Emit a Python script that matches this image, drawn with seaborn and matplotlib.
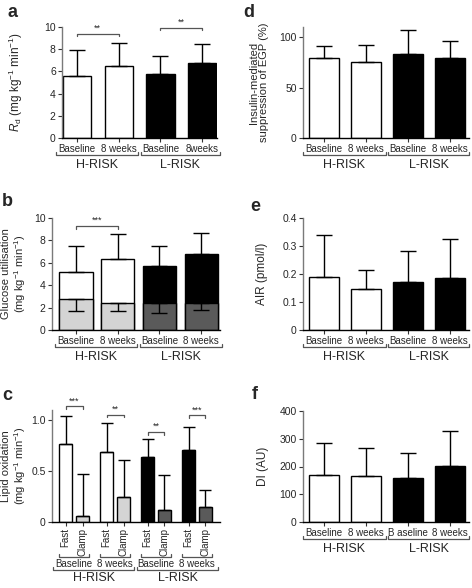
import matplotlib
matplotlib.use("Agg")
import matplotlib.pyplot as plt
import numpy as np
import pandas as pd
import seaborn as sns

W, H = 472, 588

# values
groups = ["H-RISK", "L-RISK"]
conditions = ["H Baseline", "H 8 weeks", "L Baseline", "L 8 weeks"]
labels_a = ["Baseline", "8 weeks", "Baseline", "8weeks"]
labels_std = ["Baseline", "8 weeks", "Baseline", "8 weeks"]
labels_f = ["Baseline", "8 weeks", "B aseline", "8 weeks"]
phases = ["Fast", "Clamp"]

rd_mean = [5.6, 6.5, 5.8, 6.8]
rd_sd = [2.3, 2.05, 1.55, 1.7]

glu_total = [5.22, 6.33, 5.73, 6.8]
glu_total_sd = [2.3, 2.24, 1.73, 1.86]
glu_lower = [2.78, 2.45, 2.45, 2.39]
glu_lower_sd = [1.08, 0.75, 0.95, 0.59]

lipid_fast = [0.762, 0.684, 0.642, 0.704]
lipid_fast_sd = [0.28, 0.293, 0.172, 0.231]
lipid_clamp = [0.055, 0.25, 0.12, 0.143]
lipid_clamp_sd = [0.415, 0.36, 0.343, 0.173]

egp_mean = [79.2, 75.6, 82.8, 79.2]
egp_sd = [11.9, 16.8, 24.1, 17.2]
air_mean = [0.191, 0.148, 0.171, 0.185]
air_sd = [0.147, 0.066, 0.112, 0.14]
di_mean = [170.7, 166.0, 157.6, 200.6]
di_sd = [114.3, 100.0, 89.4, 127.4]

LIGHT = "#d4d4d4"
DARK = "#5a5a5a"
main_colors = ["white", "white", "black", "black"]
lower_colors = [LIGHT, LIGHT, DARK, DARK]

sns.set_theme(style="ticks")
plt.rcParams["font.family"] = ["Liberation Sans", "DejaVu Sans"]
plt.rcParams["mathtext.fontset"] = "custom"
plt.rcParams["mathtext.rm"] = "Liberation Sans"
plt.rcParams["mathtext.it"] = "Liberation Sans:italic"

fig = plt.figure(figsize=(W / 100, H / 100), dpi=100)


def px_axes(left, top, right, bottom):
    return fig.add_axes([left / W, 1 - bottom / H, (right - left) / W, (bottom - top) / H])


def style(ax, ylim, yticks, yticklabels, xlim, ylabel, label_x):
    ax.set_ylim(*ylim)
    ax.set_xlim(*xlim)
    ax.set_yticks(yticks)
    ax.set_yticklabels(yticklabels)
    for s in ["top", "right"]:
        ax.spines[s].set_visible(False)
    ax.spines["left"].set_color("#7a7a7a")
    ax.spines["left"].set_linewidth(1.0)
    ax.spines["bottom"].set_color("black")
    ax.spines["bottom"].set_linewidth(1.0)
    ax.tick_params(labelsize=7, length=3, width=0.8, color="#333333", pad=1.5)
    ax.tick_params(axis="y", labelsize=7.5)
    ax.set_xlabel("")
    ax.set_ylabel(ylabel, fontsize=8, linespacing=1.05)
    ax.yaxis.set_label_coords(label_x, 0.5)


def bar_centers(ax):
    return sorted(p.get_x() + p.get_width() / 2 for p in ax.patches)


def draw_bars(ax, means, colors, width):
    df = pd.DataFrame({"cond": conditions, "value": means})
    sns.barplot(data=df, x="cond", y="value", hue="cond", order=conditions,
                palette=dict(zip(conditions, colors)), legend=False, errorbar=None,
                width=width, edgecolor="black", linewidth=1.0, ax=ax)


def err_up(ax, xs, means, sds, capsize, down=False):
    sds = np.asarray(sds)
    zeros = np.zeros_like(sds)
    yerr = [sds, zeros] if down else [zeros, sds]
    ax.errorbar(xs, means, yerr=yerr, fmt="none", ecolor="black",
                elinewidth=1.0, capsize=capsize, capthick=1.0, zorder=5)


def sig(ax, x0, x1, y, stars, drop):
    ax.plot([x0, x0, x1, x1], [y - drop, y, y, y - drop], color="#555555",
            lw=0.9, clip_on=False)
    ax.text((x0 + x1) / 2, y + drop * 0.3, stars, ha="center", va="bottom",
            fontsize=6.5, clip_on=False)


def under_bracket(ax, x0, x1, dy, tick, text, text_dy, size):
    ax_h = ax.get_position().height * H
    tr = ax.get_xaxis_transform()
    y = -dy / ax_h
    yt = -(dy - tick) / ax_h
    ax.plot([x0, x0, x1, x1], [yt, y, y, yt], color="#555555", lw=0.9,
            transform=tr, clip_on=False)
    ax.text((x0 + x1) / 2, -text_dy / ax_h, text, ha="center", va="center",
            fontsize=size, transform=tr)


def group_brackets(ax, x_right=3.47, dy=17, text_dy=27):
    under_bracket(ax, -0.5, 1.47, dy, 3, groups[0], text_dy, 9)
    under_bracket(ax, 1.53, x_right, dy, 3, groups[1], text_dy, 9)


# ---- a ----
ax = px_axes(62, 27, 217, 138)
draw_bars(ax, rd_mean, main_colors, 0.68)
xs = bar_centers(ax)
err_up(ax, xs, rd_mean, rd_sd, 6)
style(ax, (0, 10), [0, 2, 4, 6, 8, 10], ["0", "2", "4", "6", "8", "10"],
      (-0.36, 3.36), r"$\mathit{R}_\mathrm{d}$ (mg kg$^{-1}$ min$^{-1}$)", -0.24)
ax.yaxis.label.set_fontsize(8.5)
ax.set_xticks(range(4))
ax.set_xticklabels(labels_a)
sig(ax, 0, 1, 9.4, "**", 0.25)
sig(ax, 2, 3, 9.95, "**", 0.25)
group_brackets(ax, 3.43)

# ---- b ----
ax = px_axes(52, 218, 220, 330)
draw_bars(ax, glu_total, main_colors, 0.8)
draw_bars(ax, glu_lower, lower_colors, 0.8)
xs = sorted(set(round(v, 6) for v in bar_centers(ax)))
err_up(ax, xs, glu_total, glu_total_sd, 6)
err_up(ax, xs, glu_lower, glu_lower_sd, 6, down=True)
style(ax, (0, 10), [0, 2, 4, 6, 8, 10], ["0", "2", "4", "6", "8", "10"],
      (-0.576, 3.45), "Glucose utilisation\n(mg kg$^{-1}$ min$^{-1}$)", -0.145)
ax.set_xticks(range(4))
ax.set_xticklabels(labels_std)
sig(ax, 0, 1, 9.31, "***", 0.25)
group_brackets(ax, 3.5)

# ---- c ----
ax = px_axes(52, 410, 220, 522)
pair_col = [c for c in conditions for _ in phases]
phase_col = phases * len(conditions)
lipid_vals = [v for pair in zip(lipid_fast, lipid_clamp) for v in pair]
lipid_sds = [v for pair in zip(lipid_fast_sd, lipid_clamp_sd) for v in pair]
df_c = pd.DataFrame({"pair": pair_col, "phase": phase_col, "value": lipid_vals})
sns.barplot(data=df_c, x="pair", y="value", hue="phase", order=conditions,
            hue_order=phases, width=0.82, gap=0.2, errorbar=None,
            edgecolor="black", linewidth=1.0, legend=False, ax=ax)
c_colors = ["white", LIGHT, "white", LIGHT, "black", DARK, "black", DARK]
patches = sorted(ax.patches, key=lambda p: p.get_x())
for p, col in zip(patches, c_colors):
    p.set_facecolor(col)
xs = [p.get_x() + p.get_width() / 2 for p in patches]
err_up(ax, xs, lipid_vals, lipid_sds, 4.5)
style(ax, (0, 1.1), [0, 0.5, 1.0], ["0", "0.5", "1.0"], (-0.54, 3.56),
      "Lipid oxidation\n(mg kg$^{-1}$ min$^{-1}$)", -0.145)
ax.set_xticks(xs)
ax.set_xticklabels(phases * 4, rotation=90)
c_sig_y = [1.137, 1.055, 0.886, 1.049]
c_sig = ["***", "**", "**", "***"]
for i in range(4):
    sig(ax, xs[2 * i], xs[2 * i + 1], c_sig_y[i], c_sig[i], 0.028)
    under_bracket(ax, i - 0.37, i + 0.37, 35, 3, labels_std[i], 42, 7)
under_bracket(ax, -0.52, 1.47, 48, 3, groups[0], 56, 9)
under_bracket(ax, 1.53, 3.52, 48, 3, groups[1], 56, 9)

# ---- d ----
ax = px_axes(303, 27, 469, 138)
draw_bars(ax, egp_mean, main_colors, 0.7)
xs = bar_centers(ax)
err_up(ax, xs, egp_mean, egp_sd, 5.5)
style(ax, (0, 110), [0, 50, 100], ["0", "50", "100"], (-0.5, 3.45),
      "Insulin-mediated\nsuppression of EGP (%)", -0.205)
ax.set_xticks(range(4))
ax.set_xticklabels(labels_std)
group_brackets(ax, 3.45)

# ---- e ----
ax = px_axes(303, 218, 469, 330)
draw_bars(ax, air_mean, main_colors, 0.7)
xs = bar_centers(ax)
err_up(ax, xs, air_mean, air_sd, 5.5)
style(ax, (0, 0.4), [0, 0.1, 0.2, 0.3, 0.4], ["0", "0.1", "0.2", "0.3", "0.4"],
      (-0.5, 3.45), "AIR (pmol/l)", -0.21)
ax.yaxis.label.set_fontsize(8.5)
ax.set_xticks(range(4))
ax.set_xticklabels(labels_std)
group_brackets(ax, 3.45)

# ---- f ----
ax = px_axes(303, 411, 469, 522)
draw_bars(ax, di_mean, main_colors, 0.7)
xs = bar_centers(ax)
err_up(ax, xs, di_mean, di_sd, 5.5)
style(ax, (0, 400), [0, 100, 200, 300, 400], ["0", "100", "200", "300", "400"],
      (-0.5, 3.45), "DI (AU)", -0.205)
ax.yaxis.label.set_fontsize(8.5)
ax.set_xticks(range(4))
ax.set_xticklabels(labels_f)
group_brackets(ax, 3.45)

# panel letters
for letter, x, y in [("a", 8, 4), ("b", 2, 193), ("c", 2, 387),
                     ("d", 243, 4), ("e", 250, 198), ("f", 252, 386)]:
    fig.text(x / W, 1 - y / H, letter, fontsize=13, fontweight="bold", va="top")

fig.savefig("out.png", dpi=100)
